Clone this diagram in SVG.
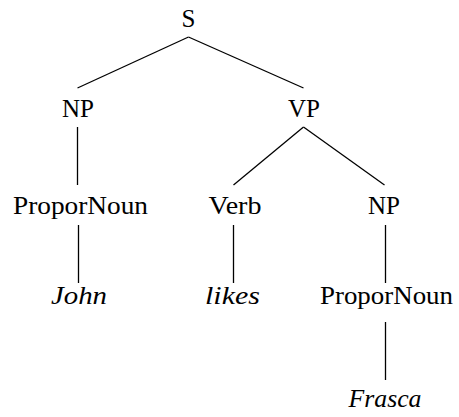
<svg xmlns="http://www.w3.org/2000/svg" width="459" height="417" viewBox="0 0 459 417">
<style>
text{font-family:'Liberation Serif','Times New Roman',Tinos,'DejaVu Serif','Noto Serif',serif;font-size:25px;fill:#000;text-anchor:middle}
.it{font-style:italic}
.edge{stroke:#000;stroke-width:1.3;fill:none}
</style>
<rect width="459" height="417" fill="#fff"/>
<g id="connectors">
<line class="edge" x1="188.5" y1="37" x2="77.5" y2="88"/>
<line class="edge" x1="188.5" y1="37" x2="303.5" y2="88"/>
<line class="edge" x1="77.5" y1="127" x2="77.5" y2="185"/>
<line class="edge" x1="303.5" y1="127" x2="233.5" y2="185"/>
<line class="edge" x1="303.5" y1="127" x2="384.5" y2="185"/>
<line class="edge" x1="78.5" y1="225" x2="78.5" y2="283"/>
<line class="edge" x1="233.5" y1="225" x2="233.5" y2="283"/>
<line class="edge" x1="385.5" y1="225" x2="385.5" y2="283"/>
<line class="edge" x1="385.5" y1="322" x2="385.5" y2="380"/>
</g>
<g id="n-S"><text x="188.5" y="27">S</text></g>
<g id="n-NP1"><text x="78" y="117">NP</text></g>
<g id="n-VP"><text x="304" y="117">VP</text></g>
<g id="n-PN1"><text x="80.5" y="214" textLength="135" lengthAdjust="spacingAndGlyphs">ProporNoun</text></g>
<g id="n-Verb"><text x="235" y="214" textLength="53" lengthAdjust="spacingAndGlyphs">Verb</text></g>
<g id="n-NP2"><text x="384" y="214">NP</text></g>
<g id="n-John"><text class="it" x="79" y="304" textLength="56" lengthAdjust="spacingAndGlyphs">John</text></g>
<g id="n-likes"><text class="it" x="232.5" y="304" textLength="55" lengthAdjust="spacingAndGlyphs">likes</text></g>
<g id="n-PN2"><text x="386.5" y="304" textLength="133" lengthAdjust="spacingAndGlyphs">ProporNoun</text></g>
<g id="n-Frasca"><text class="it" x="385" y="407" textLength="73" lengthAdjust="spacingAndGlyphs">Frasca</text></g>
</svg>
